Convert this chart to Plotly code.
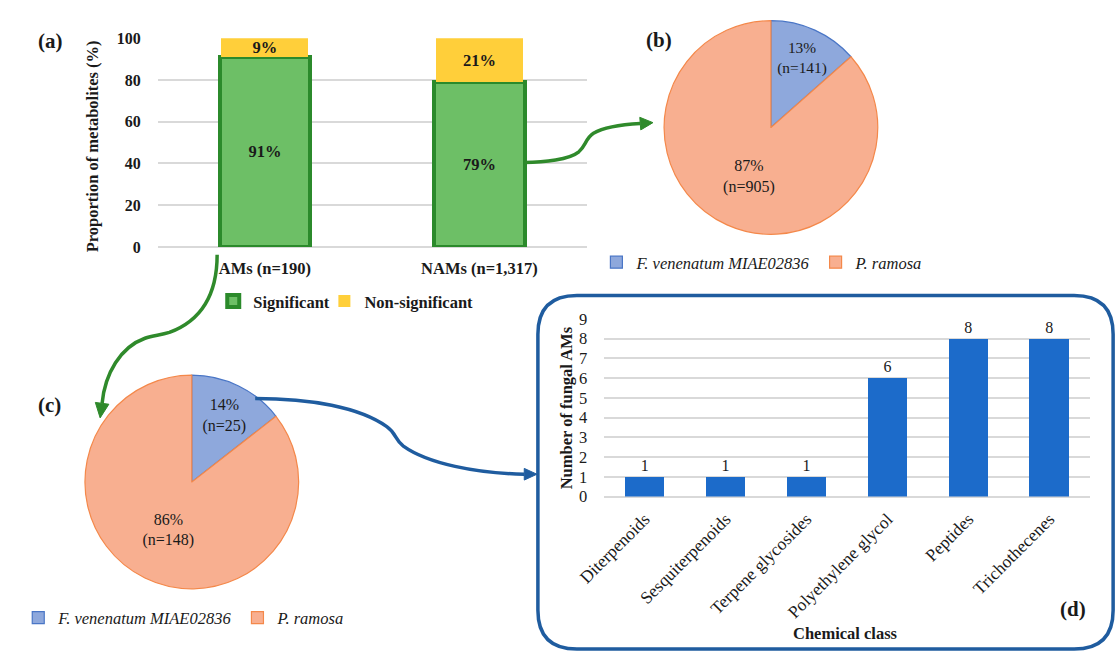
import plotly.graph_objects as go

W, H = 1118, 661
FONT = "Liberation Serif"
INK = "#1a1a1a"

# (a) share of significant metabolites
groups = ["AMs (n=190)", "NAMs (n=1,317)"]
significant = [91, 79]
non_significant = [9, 21]

# (b), (c) producing organism
organisms = ["F. venenatum MIAE02836", "P. ramosa"]
nams_by_organism = [141, 905]
ams_by_organism = [25, 148]

# (d) fungal AMs per chemical class
chem_classes = ["Diterpenoids", "Sesquiterpenoids", "Terpene glycosides",
                "Polyethylene glycol", "Peptides", "Trichothecenes"]
fungal_ams = [1, 1, 1, 6, 8, 8]


def fx(x):
    return x / W


def fy(y):
    return 1 - y / H


def svg_path(segments):
    out = []
    for cmd, pts in segments:
        coords = " ".join(f"{fx(x):.5f},{fy(y):.5f}" for x, y in pts)
        out.append(f"{cmd}{coords}")
    return " ".join(out)


def arrow_head(tip, base, half_w):
    dx, dy = tip[0] - base[0], tip[1] - base[1]
    n = (dx * dx + dy * dy) ** 0.5
    nx, ny = -dy / n * half_w, dx / n * half_w
    p1 = (base[0] + nx, base[1] + ny)
    p2 = (base[0] - nx, base[1] - ny)
    return svg_path([("M", [tip]), ("L", [p1]), ("L", [p2])]) + " Z"


fig = go.Figure()

# ---- (a) stacked bars
fig.add_trace(go.Bar(
    x=groups, y=significant, name="Significant", width=0.423,
    marker=dict(color="#6dbf66", line=dict(color="#2b8a2b", width=4)),
    texttemplate="%{y}%", textposition="inside", insidetextanchor="middle",
    constraintext="none",
    textfont=dict(family=FONT, size=16.5, color=INK, weight="bold"),
    xaxis="x", yaxis="y", legend="legend",
))
fig.add_trace(go.Bar(
    x=groups, y=non_significant, name="Non-significant", width=0.405,
    marker=dict(color="#ffcf3a", line=dict(width=0)),
    texttemplate="%{y}%", textposition="inside", insidetextanchor="middle",
    constraintext="none",
    textfont=dict(family=FONT, size=16.5, color=INK, weight="bold"),
    xaxis="x", yaxis="y", legend="legend4",
))

# ---- (b), (c) pies  (zero-width space keeps the two legends independent)
pie_colors = ["#8ea8dc", "#f8af90"]
pie_lines = ["#4a76c6", "#f4884a"]
for counts, dom, leg, suffix in [
    (nams_by_organism, ([652, 872], [232, 12]), "legend2", ""),
    (ams_by_organism, ([58, 278], [597, 377]), "legend3", "\u200b"),
]:
    fig.add_trace(go.Pie(
        labels=[o + suffix for o in organisms], values=counts, sort=False,
        direction="clockwise", rotation=0,
        domain=dict(x=[fx(dom[0][0]), fx(dom[0][1])], y=[fy(dom[1][0]), fy(dom[1][1])]),
        marker=dict(colors=pie_colors, line=dict(color=pie_lines, width=1.2)),
        texttemplate="%{percent:.0%}<br>(n=%{value})",
        textposition="inside", insidetextorientation="horizontal",
        textfont=dict(family=FONT, size=16, color=INK),
        legend=leg, hoverinfo="label+value+percent",
    ))

# ---- (d) bar chart
fig.add_trace(go.Bar(
    x=chem_classes, y=fungal_ams, width=0.49, showlegend=False,
    marker=dict(color="#1c6bca", line=dict(width=0)),
    texttemplate="%{y}", textposition="outside", cliponaxis=False,
    textfont=dict(family=FONT, size=16, color=INK),
    xaxis="x2", yaxis="y2",
))

grid = "#d9d9d9"


def legend_at(x, y, **font):
    return dict(orientation="h", traceorder="normal", x=fx(x), y=fy(y),
                xanchor="left", yanchor="middle", bgcolor="rgba(0,0,0,0)",
                font=dict(family=FONT, size=16.5, color=INK, **font))


fig.update_layout(
    width=W, height=H, margin=dict(l=0, r=0, t=0, b=0),
    paper_bgcolor="white", plot_bgcolor="white",
    barmode="stack",
    font=dict(family=FONT, color=INK),
    xaxis=dict(domain=[fx(133), fx(573)], anchor="y", showgrid=False, showline=False,
               zeroline=False, ticks="", ticklabelstandoff=10,
               tickfont=dict(family=FONT, size=16.5, color=INK, weight="bold")),
    yaxis=dict(domain=[fy(245), fy(30)], anchor="x", range=[0, 100], dtick=20,
               showgrid=True, gridcolor=grid, gridwidth=1.5, zeroline=True,
               zerolinecolor=grid, zerolinewidth=1.5, showline=False, ticks="",
               ticklabelstandoff=16,
               tickfont=dict(family=FONT, size=16, color=INK, weight="bold")),
    xaxis2=dict(domain=[fx(591), fx(1089)], anchor="y2", showgrid=False, showline=False,
                zeroline=False, ticks="", tickangle=-45, ticklabelstandoff=8,
                tickfont=dict(family=FONT, size=17.5, color=INK)),
    yaxis2=dict(domain=[fy(502), fy(319)], anchor="x2", range=[0, 9], dtick=1,
                showgrid=True, gridcolor=grid, gridwidth=1.5, zeroline=True,
                zerolinecolor=grid, zerolinewidth=1.5, showline=False, ticks="",
                ticklabelstandoff=16,
                tickfont=dict(family=FONT, size=16.5, color=INK)),
    legend=legend_at(190, 301, weight="bold"),
    legend4=legend_at(304, 301, weight="bold"),
    legend2=legend_at(583, 261, style="italic"),
    legend3=legend_at(-10, 627, style="italic"),
)

# ---- titles and panel letters
def note(text, x, y, size, bold=True, angle=0, xanchor="center"):
    fig.add_annotation(text=text, x=fx(x), y=fy(y), xref="paper", yref="paper",
                       showarrow=False, textangle=angle, xanchor=xanchor, yanchor="middle",
                       font=dict(family=FONT, size=size, color=INK,
                                 weight="bold" if bold else "normal"))


note("Proportion of metabolites (%)", 67, 141, 16.5, angle=-90)
note("Number of fungal AMs", 552, 411, 16.5, angle=-90)
note("Chemical class", 839, 643, 16.5)
note("(a)", 23, 33, 21)
note("(b)", 647, 32, 21)
note("(c)", 22, 408, 21)
note("(d)", 1072, 618, 21)

# ---- rounded frame around (d)
L, T, R, B, r = 523, 295, 1113, 659, 40
frame = svg_path([
    ("M", [(L + r, T)]), ("L", [(R - r, T)]), ("Q", [(R, T), (R, T + r)]),
    ("L", [(R, B - r)]), ("Q", [(R, B), (R - r, B)]),
    ("L", [(L + r, B)]), ("Q", [(L, B), (L, B - r)]),
    ("L", [(L, T + r)]), ("Q", [(L, T), (L + r, T)]),
]) + " Z"
fig.add_shape(type="path", path=frame, xref="paper", yref="paper",
              line=dict(color="#1f5c9f", width=3.5), layer="below")

# ---- connectors
GREEN, BLUE = "#2f8a2b", "#1f5c9f"
connectors = [
    (GREEN, [("M", [(509, 158)]), ("C", [(530, 158), (555, 155), (565, 147)]),
             ("C", [(572, 141), (572, 133), (580, 128)]),
             ("C", [(592, 121), (610, 119), (628, 118)])],
     (641, 117), (628, 118), 6.5),
    (GREEN, [("M", [(194, 253)]), ("C", [(194, 292), (180, 320), (145, 333)]),
             ("C", [(135, 336), (128, 336), (120, 339)]),
             ("C", [(95, 348), (79, 375), (76, 406)])],
     (74, 421), (76, 406), 7),
    (BLUE, [("M", [(233, 401)]), ("C", [(290, 401), (340, 410), (368, 430)]),
            ("C", [(378, 437), (376, 443), (385, 450)]),
            ("C", [(410, 468), (460, 478), (509, 479)])],
     (522, 479), (509, 479), 6),
]
for color, segs, tip, base, hw in connectors:
    fig.add_shape(type="path", path=svg_path(segs), xref="paper", yref="paper",
                  line=dict(color=color, width=3.5), layer="above")
    fig.add_shape(type="path", path=arrow_head(tip, base, hw), xref="paper", yref="paper",
                  line=dict(color=color, width=1), fillcolor=color, layer="above")

fig.write_html("out.html")
